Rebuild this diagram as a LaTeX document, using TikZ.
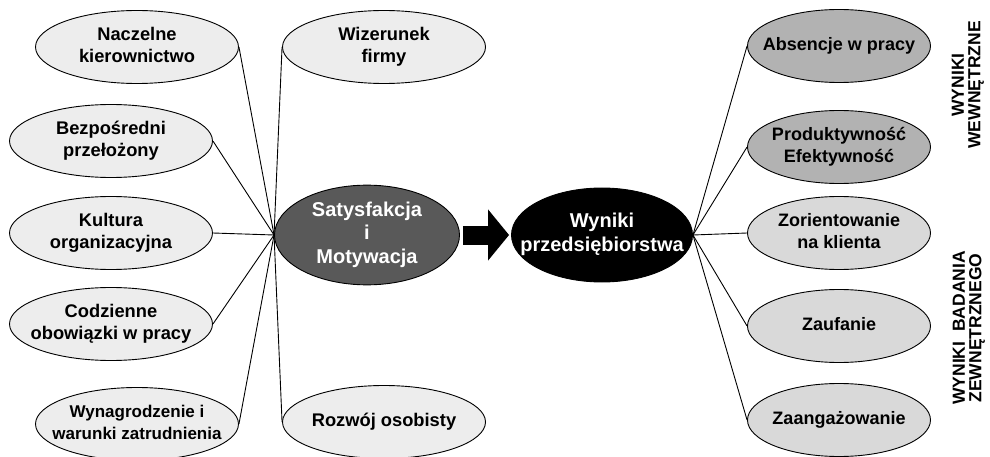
\documentclass[tikz,border=0pt]{standalone}
\usepackage{fontspec}
\setmainfont{Liberation Sans}
\usetikzlibrary{shapes.geometric,arrows.meta}
\newcommand{\elltext}[1]{\makebox[0pt]{\begin{tabular}{@{}c@{}}#1\end{tabular}}}

\begin{document}
\begin{tikzpicture}[x=1pt,y=-1pt,line width=0.9pt]
\tikzstyle{factor}=[draw, ellipse, fill=black!7, inner sep=0pt, minimum width=203pt, minimum height=73pt, font=\fontsize{18.3}{22}\selectfont\bfseries]
\tikzstyle{core}=[factor, minimum width=185pt, minimum height=94pt, fill=black!65, text=white, font=\fontsize{20}{23.5}\selectfont\bfseries]
\tikzstyle{inner}=[factor, minimum width=183pt, fill=black!30, font=\fontsize{18}{22}\selectfont\bfseries]
\tikzstyle{outer}=[inner, fill=black!15]
\tikzstyle{heading}=[rotate=90, align=center, inner sep=0pt, font=\fontsize{17.5}{16.5}\selectfont\bfseries]

\useasboundingbox (0,0) rectangle (990,457);

% czynniki
\node[factor] (nk) at (137, 47) {\elltext{Naczelne\\kierownictwo}};
\node[factor] (bp) at (111,141) {\elltext{Bezpośredni\\przełożony}};
\node[factor] (ko) at (111,233) {\elltext{Kultura\\organizacyjna}};
\node[factor] (co) at (111,324) {\elltext{Codzienne\\obowiązki w pracy}};
\node[factor, font=\fontsize{17}{22}\selectfont\bfseries] (wy) at (137,424) {\elltext{Wynagrodzenie i\\warunki zatrudnienia}};
\node[factor] (wf) at (384, 47) {\elltext{Wizerunek\\firmy}};
\node[factor] (ro) at (384,422) {\elltext{Rozwój osobisty}};

% srodek
\node[core] (sat) at (367,235) {\elltext{Satysfakcja\\i\\Motywacja}};
\node[core, minimum width=181pt, fill=black] (res) at (602,235) {\elltext{Wyniki\\przedsiębiorstwa}};

% wyniki
\node[inner] (ab) at (839, 46) {\elltext{Absencje w pracy}};
\node[inner] (pe) at (839,147) {\elltext{Produktywność\\Efektywność}};
\node[outer] (kl) at (839,233) {\elltext{Zorientowanie\\na klienta}};
\node[outer] (za) at (839,326) {\elltext{Zaufanie}};
\node[outer] (zg) at (839,420) {\elltext{Zaangażowanie}};

\node[heading] (hw) at (968, 85) {WYNIKI\\WEWNĘTRZNE};
\node[heading] (hz) at (969,328) {WYNIKI\ \ BADANIA\\ZEWNĘTRZNEGO};

\draw (nk.east) -- (sat.west);
\draw (bp.east) -- (sat.west);
\draw (ko.east) -- (sat.west);
\draw (co.east) -- (sat.west);
\draw (wy.east) -- (sat.west);
\draw (wf.west) -- (sat.west);
\draw (ro.west) -- (sat.west);

\draw[line width=19pt, -{Triangle[length=21pt,width=50pt]}]
    ([xshift=3pt]sat.east) -- ([xshift=-2pt]res.west);

\draw (res.east) -- (ab.west);
\draw (res.east) -- (pe.west);
\draw (res.east) -- (kl.west);
\draw (res.east) -- (za.west);
\draw (res.east) -- (zg.west);
\end{tikzpicture}
\end{document}
